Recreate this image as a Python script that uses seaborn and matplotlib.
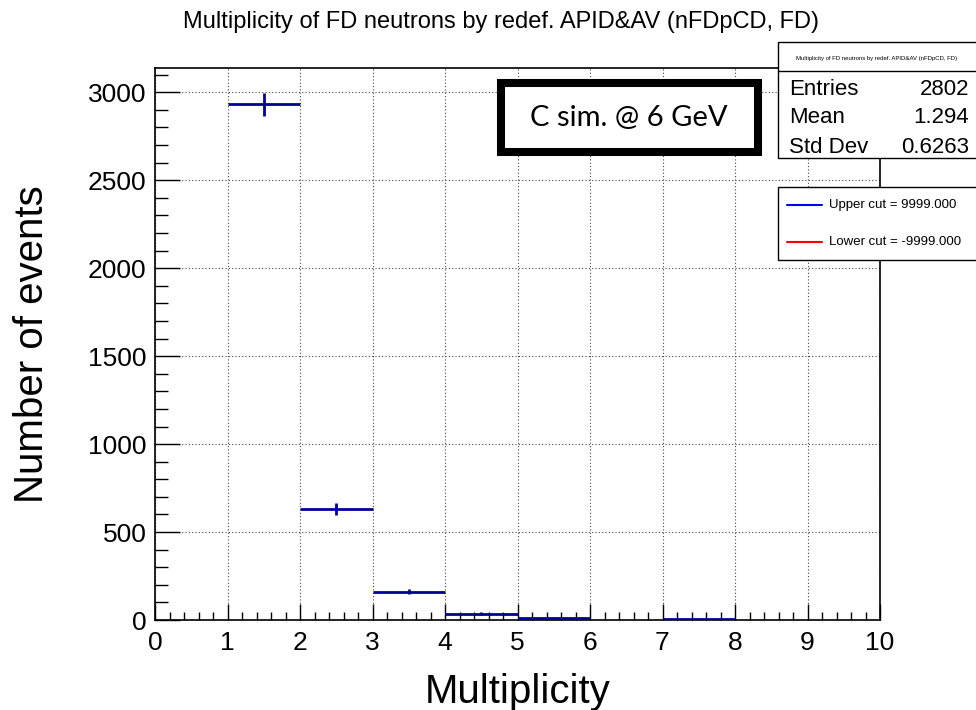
import numpy as np
import pandas as pd
import matplotlib
matplotlib.use("Agg")
import matplotlib.pyplot as plt
import seaborn as sns
from matplotlib.patches import Rectangle
from matplotlib.lines import Line2D
from matplotlib.ticker import MultipleLocator

# Histogram content (bin low edges, contents, errors)
bin_low = [0, 1, 2, 3, 4, 5, 6, 7, 8, 9]
counts = [0, 2932, 631, 161, 36, 10, 0, 4, 0, 0]
errors = [0, 66, 33, 13, 7, 3, 0, 2, 0, 0]

title = "Multiplicity of FD neutrons by redef. APID&AV (nFDpCD, FD)"
stats_labels = ["Entries", "Mean", "Std Dev"]
stats_values = ["2802", "1.294", "0.6263"]
legend_labels = ["Upper cut = 9999.000", "Lower cut = -9999.000"]
legend_colors = ["#0000ff", "#ff0000"]
note_text = "C sim. @ 6 GeV"

W, H = 976, 710


def fx(px):
    return px / W


def fy(py):
    return 1 - py / H


sns.set_theme(style="white")
plt.rcParams['font.family'] = ['Liberation Sans', 'DejaVu Sans']
plt.rcParams['text.color'] = 'black'
plt.rcParams['axes.labelcolor'] = 'black'

fig = plt.figure(figsize=(9.76, 7.10), dpi=100)
ax = fig.add_axes([fx(155), fy(620), fx(880) - fx(155), fy(68) - fy(620)])

df = pd.DataFrame({"low": bin_low, "n": counts, "err": errors})
df["center"] = df["low"] + 0.5
df = df[df["n"] > 0]

ax.errorbar(df["center"], df["n"], xerr=0.5, yerr=df["err"], fmt="none",
            ecolor="#000099", elinewidth=2.0, capsize=0, zorder=3)

ax.set_xlim(0, 10)
ax.set_ylim(0, 3138)
ax.xaxis.set_major_locator(MultipleLocator(1))
ax.xaxis.set_minor_locator(MultipleLocator(0.2))
ax.yaxis.set_major_locator(MultipleLocator(500))
ax.yaxis.set_minor_locator(MultipleLocator(100))

ax.tick_params(axis="x", which="major", direction="in", length=11.5, width=1,
               color="black", labelsize=19, pad=8, bottom=True, top=False)
ax.tick_params(axis="x", which="minor", direction="in", length=5.5, width=1,
               color="black", bottom=True, top=False)
ax.tick_params(axis="y", which="major", direction="in", length=18, width=1,
               color="black", labelsize=19, pad=6, left=True, right=False)
ax.tick_params(axis="y", which="minor", direction="in", length=9, width=1,
               color="black", left=True, right=False)
for lab in ax.get_xticklabels() + ax.get_yticklabels():
    lab.set_color("black")

ax.grid(True, which="major", linestyle=(0, (1, 2)), color="#444444", linewidth=0.8)
ax.set_axisbelow(True)
for sp in ax.spines.values():
    sp.set_color("black")
    sp.set_linewidth(1.2)

ax.set_xlabel("Multiplicity", fontsize=29, color="black")
ax.xaxis.set_label_coords(0.5, -0.096)
ax.set_ylabel("Number of events", fontsize=29, color="black")
ax.yaxis.set_label_coords(-0.143, 0.5)

fig.text(fx(501), fy(28.3), title, ha="center", va="baseline", fontsize=17)

# stats box
fig.add_artist(Rectangle((fx(778), fy(158)), fx(210), fy(41.7) - fy(158),
                         transform=fig.transFigure, facecolor="white",
                         edgecolor="black", lw=1.0, zorder=5))
fig.add_artist(Line2D([fx(778), fx(990)], [fy(71), fy(71)],
                      transform=fig.transFigure, color="black", lw=1.0, zorder=6))
fig.text(fx(877), fy(60), title, ha="center", va="baseline", fontsize=4.3, zorder=7)
for lab, val, base in zip(stats_labels, stats_values, [95, 123.3, 152.7]):
    fig.text(fx(789), fy(base), lab, ha="left", va="baseline", fontsize=16, zorder=7)
    fig.text(fx(969), fy(base), val, ha="right", va="baseline", fontsize=16, zorder=7)

# cut legend box
fig.add_artist(Rectangle((fx(778), fy(260)), fx(210), fy(186.7) - fy(260),
                         transform=fig.transFigure, facecolor="white",
                         edgecolor="black", lw=1.0, zorder=5))
for lab, col, yy in zip(legend_labels, legend_colors, [205, 241.7]):
    fig.add_artist(Line2D([fx(786.7), fx(822)], [fy(yy), fy(yy)],
                          transform=fig.transFigure, color=col, lw=1.5, zorder=6))
    fig.text(fx(829), fy(yy), lab, ha="left", va="center", fontsize=9.5, zorder=7)

# annotation box
fig.add_artist(Rectangle((fx(500.7), fy(151.7)), fx(757.7) - fx(500.7), fy(83.3) - fy(151.7),
                         transform=fig.transFigure, facecolor="white",
                         edgecolor="black", lw=5.8, zorder=5))
fig.text(fx(629), fy(125.7), note_text, ha="center", va="baseline", fontsize=21,
         family=["Lato", "DejaVu Sans"], zorder=7)

fig.savefig("out.png", dpi=100, facecolor="white")
